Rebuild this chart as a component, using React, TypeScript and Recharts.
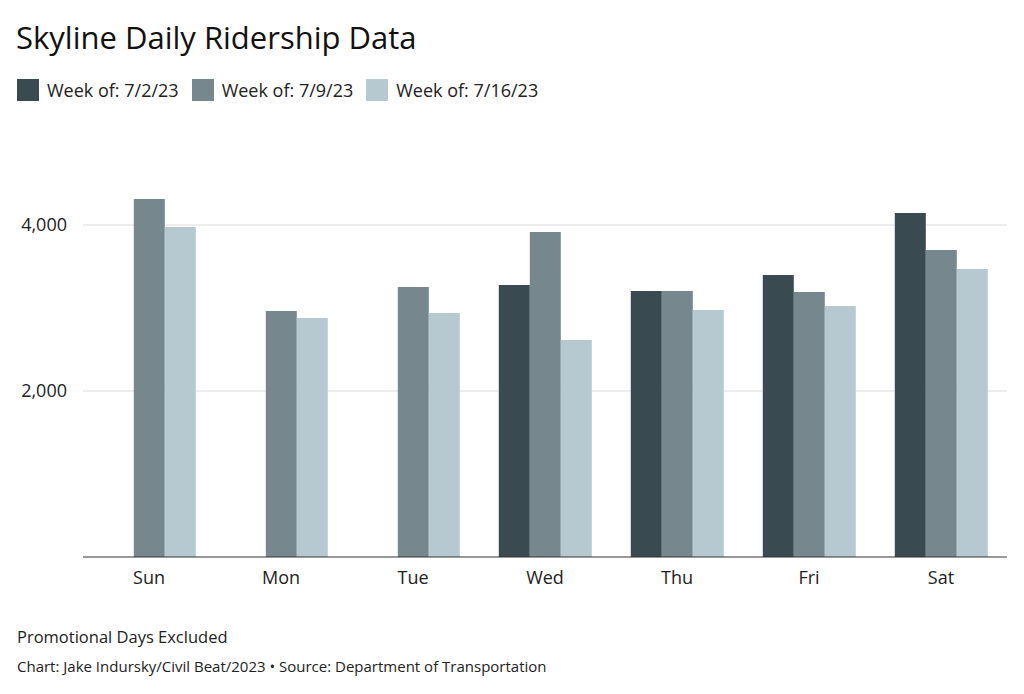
import React from 'react';
import { BarChart, Bar, XAxis, YAxis, CartesianGrid } from 'recharts';

const days = ['Sun', 'Mon', 'Tue', 'Wed', 'Thu', 'Fri', 'Sat'];
const week1 = [null, null, null, 3277, 3205, 3398, 4145];
const week2 = [4313, 2964, 3253, 3916, 3205, 3193, 3699];
const week3 = [3976, 2880, 2940, 2614, 2976, 3024, 3470];
const seriesNames = ['Week of: 7/2/23', 'Week of: 7/9/23', 'Week of: 7/16/23'];
const colors = ['#3a4a51', '#76888e', '#b7c9d0'];
const yTicks = [2000, 4000];

const data = days.map((d, i) => ({ day: d, w1: week1[i], w2: week2[i], w3: week3[i] }));
const font = '"Open Sans", sans-serif';

export default function App() {
  return (
    <div style={{ position: 'absolute', left: 0, top: 0, width: 1024, height: 694, background: '#fff', fontFamily: font, color: '#222' }}>
      <div style={{ position: 'absolute', left: 16, top: 16, fontSize: 31, fontWeight: 500, color: '#111' }}>Skyline Daily Ridership Data</div>
      <div style={{ position: 'absolute', left: 17, top: 78, display: 'flex', fontSize: 18, lineHeight: '24px' }}>
        {seriesNames.map((n, i) => (
          <div key={n} style={{ display: 'flex', alignItems: 'center', marginRight: 13 }}>
            <span style={{ width: 22, height: 22, background: colors[i], display: 'inline-block', marginRight: 8 }} />
            {n}
          </div>
        ))}
      </div>
      <div style={{ position: 'absolute', left: 0, top: 0 }}>
        <BarChart width={1024} height={600} data={data} margin={{ top: 142, right: 17, bottom: 13, left: 0 }} barGap={0} barCategoryGap="15%">
          <CartesianGrid vertical={false} stroke="#dddddd" horizontalValues={yTicks} />
          <XAxis dataKey="day" tickLine={false} axisLine={{ stroke: '#333' }} height={30} tick={{ fill: '#222', fontSize: 18, fontFamily: font }} tickMargin={8} />
          <YAxis width={83} domain={[0, 5000]} ticks={yTicks} axisLine={false} tickLine={false} tickMargin={10}
            tickFormatter={(v: number) => v.toLocaleString('en-US')}
            tick={{ fill: '#222', fontSize: 18, fontFamily: font }} />
          <Bar dataKey="w1" fill={colors[0]} isAnimationActive={false} />
          <Bar dataKey="w2" fill={colors[1]} isAnimationActive={false} />
          <Bar dataKey="w3" fill={colors[2]} isAnimationActive={false} />
        </BarChart>
      </div>
      <div style={{ position: 'absolute', left: 17, top: 625, fontSize: 16.5 }}>Promotional Days Excluded</div>
      <div style={{ position: 'absolute', left: 17, top: 656, fontSize: 15 }}>Chart: Jake Indursky/Civil Beat/2023 • Source: Department of Transportation</div>
    </div>
  );
}
